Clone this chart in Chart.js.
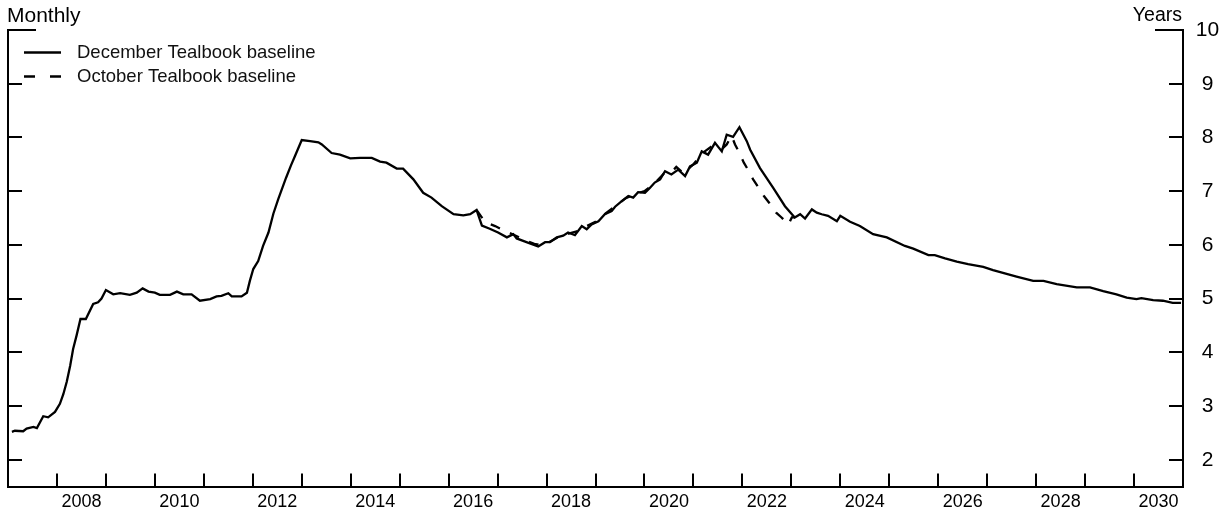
<!DOCTYPE html>
<html>
<head>
<meta charset="utf-8">
<script src="https://cdn.jsdelivr.net/npm/chart.js@4.4.1/dist/chart.umd.min.js"></script>
<style>
  html, body { margin: 0; padding: 0; background: #fff; }
  #wrap { width: 1227px; height: 512px; }
</style>
</head>
<body>
<div id="wrap"><canvas id="chart" width="1227" height="512"></canvas></div>
<script>
// Monthly observations, dates as decimal years, values in years
var decDates = [
  2007.08, 2007.14, 2007.31, 2007.38, 2007.52, 2007.59, 2007.72, 2007.82, 2007.96,
  2008.06, 2008.13, 2008.20, 2008.27, 2008.33, 2008.40, 2008.48, 2008.59, 2008.74, 2008.84, 2008.91,
  2009.00, 2009.15, 2009.29, 2009.49, 2009.63, 2009.75, 2009.87,
  2010.00, 2010.10, 2010.31, 2010.45, 2010.58, 2010.75, 2010.92,
  2011.13, 2011.26, 2011.36, 2011.50, 2011.57, 2011.77, 2011.88, 2011.94,
  2012.01, 2012.11, 2012.21, 2012.32, 2012.42, 2012.52, 2012.68, 2012.78, 2012.86,
  2013.00, 2013.17, 2013.34, 2013.41, 2013.61, 2013.78, 2013.99,
  2014.19, 2014.43, 2014.60, 2014.73, 2014.94,
  2015.07, 2015.28, 2015.48, 2015.65, 2015.86,
  2016.10, 2016.30, 2016.44, 2016.57, 2016.68, 2016.84,
  2017.01, 2017.19, 2017.32, 2017.39, 2017.59, 2017.83, 2017.97,
  2018.07, 2018.21, 2018.34, 2018.44, 2018.58, 2018.72, 2018.82, 2018.92,
  2019.06, 2019.19, 2019.33, 2019.40, 2019.53, 2019.67, 2019.77, 2019.87,
  2020.01, 2020.11, 2020.21, 2020.32, 2020.42, 2020.55, 2020.69, 2020.83, 2020.93,
  2021.07, 2021.17, 2021.30, 2021.44, 2021.58, 2021.68, 2021.81, 2021.94,
  2022.09, 2022.16, 2022.36, 2022.63, 2022.87,
  2023.07, 2023.18, 2023.28, 2023.42, 2023.52, 2023.62, 2023.75, 2023.93,
  2024.00, 2024.20, 2024.40, 2024.67, 2024.95,
  2025.32, 2025.49, 2025.80, 2025.93,
  2026.14, 2026.38, 2026.61, 2026.92,
  2027.12, 2027.36, 2027.60, 2027.94,
  2028.15, 2028.42, 2028.83,
  2029.10, 2029.37, 2029.64, 2029.85,
  2030.05, 2030.15, 2030.39, 2030.59, 2030.79, 2030.96
];
var decValues = [
  2.52, 2.54, 2.53, 2.58, 2.61, 2.59, 2.81, 2.79, 2.89,
  3.04, 3.22, 3.45, 3.75, 4.06, 4.31, 4.62, 4.62, 4.90, 4.93, 5.00,
  5.16, 5.08, 5.10, 5.07, 5.11, 5.19, 5.13,
  5.11, 5.07, 5.07, 5.13, 5.08, 5.08, 4.96,
  4.99, 5.04, 5.05, 5.10, 5.04, 5.04, 5.11, 5.33,
  5.55, 5.70, 5.98, 6.23, 6.58, 6.85, 7.25, 7.48, 7.65,
  7.95, 7.93, 7.91, 7.87, 7.71, 7.68, 7.61,
  7.62, 7.62, 7.55, 7.53, 7.42,
  7.42, 7.22, 6.97, 6.88, 6.72,
  6.57, 6.55, 6.57, 6.65, 6.36, 6.30,
  6.23, 6.14, 6.20, 6.12, 6.05, 5.97, 6.05,
  6.05, 6.14, 6.17, 6.23, 6.18, 6.35, 6.29, 6.38,
  6.44, 6.57, 6.63, 6.71, 6.81, 6.91, 6.88, 6.98,
  6.97, 7.06, 7.16, 7.22, 7.37, 7.31, 7.40, 7.28, 7.46,
  7.53, 7.74, 7.68, 7.90, 7.74, 8.05, 8.01, 8.19,
  7.93, 7.77, 7.43, 7.06, 6.72,
  6.51, 6.57, 6.49, 6.66, 6.60, 6.57, 6.54, 6.44,
  6.54, 6.43, 6.35, 6.20, 6.14,
  5.98, 5.93, 5.81, 5.81,
  5.75, 5.69, 5.64, 5.59,
  5.53, 5.47, 5.41, 5.33,
  5.33, 5.27, 5.21,
  5.21, 5.14, 5.08, 5.02,
  4.99, 5.01, 4.97, 4.96, 4.92, 4.92
];

// October baseline, only where it departs from the December path
var octDates = [
  2016.57, 2016.75, 2016.95, 2017.15, 2017.35, 2017.55, 2017.75, 2017.90,
  2018.07, 2018.25, 2018.45, 2018.62, 2018.80,
  2019.00, 2019.20, 2019.42, 2019.62, 2019.82,
  2020.00, 2020.20, 2020.40, 2020.60, 2020.65, 2020.80,
  2021.00, 2021.20, 2021.40, 2021.60, 2021.68, 2021.78, 2021.85, 2021.94,
  2022.03, 2022.12, 2022.22, 2022.32, 2022.44, 2022.55, 2022.69, 2022.80, 2022.94,
  2023.01, 2023.07
];
var octValues = [
  6.65, 6.42, 6.35, 6.26, 6.18, 6.09, 6.02, 5.99,
  6.06, 6.15, 6.21, 6.25, 6.34,
  6.43, 6.58, 6.73, 6.87, 6.95,
  7.00, 7.14, 7.33, 7.40, 7.45, 7.33,
  7.50, 7.72, 7.85, 7.80, 7.87, 8.03, 7.87, 7.71,
  7.53, 7.39, 7.22, 7.08, 6.91, 6.78, 6.60, 6.51, 6.38,
  6.51, 6.51
];

var seriesNames = ['December Tealbook baseline', 'October Tealbook baseline'];
var yearLabels = [2008, 2010, 2012, 2014, 2016, 2018, 2020, 2022, 2024, 2026, 2028, 2030];

function toPoints(xs, ys) {
  return xs.map(function (x, i) { return { x: x, y: ys[i] }; });
}

// inward tick marks, legend and unit captions
var decorations = {
  id: 'decorations',
  afterDraw: function (chart) {
    var ctx = chart.ctx, area = chart.chartArea;
    var xs = chart.scales.x, ys = chart.scales.y;
    ctx.save();
    ctx.strokeStyle = '#000';
    ctx.lineWidth = 2;
    ctx.beginPath();
    xs.ticks.forEach(function (t) {
      if (t.value <= xs.min || t.value >= xs.max) return;
      var px = Math.round(xs.getPixelForValue(t.value));
      ctx.moveTo(px, area.bottom);
      ctx.lineTo(px, area.bottom - 13);
    });
    ys.ticks.forEach(function (t) {
      var py = Math.round(ys.getPixelForValue(t.value));
      var len = t.value === ys.max ? 28 : 14;
      ctx.moveTo(area.left, py);
      ctx.lineTo(area.left + len, py);
      ctx.moveTo(area.right, py);
      ctx.lineTo(area.right - len, py);
    });
    ctx.stroke();

    // legend
    ctx.font = '18.5px "Liberation Sans", Arial, sans-serif';
    ctx.fillStyle = '#111';
    ctx.textBaseline = 'middle';
    ctx.textAlign = 'left';
    chart.data.datasets.forEach(function (ds, i) {
      var ly = area.top + 22.5 + i * 24;
      ctx.lineWidth = ds.borderWidth;
      ctx.setLineDash(ds.borderDash ? [11, 15] : []);
      ctx.beginPath();
      ctx.moveTo(area.left + 16, ly);
      ctx.lineTo(area.left + 53, ly);
      ctx.stroke();
      ctx.setLineDash([]);
      ctx.fillText(ds.label, area.left + 69, ly);
    });

    ctx.fillStyle = '#000';
    ctx.textBaseline = 'alphabetic';
    ctx.font = '21px "Liberation Sans", Arial, sans-serif';
    ctx.fillText('Monthly', area.left - 1, 22);
    ctx.font = '19.5px "Liberation Sans", Arial, sans-serif';
    ctx.textAlign = 'right';
    ctx.fillText('Years', area.right - 1, 21);
    ctx.restore();
  }
};

var ctx = document.getElementById('chart').getContext('2d');
var chart = new Chart(ctx, {
  type: 'line',
  data: {
    datasets: [
      {
        label: seriesNames[0],
        data: toPoints(decDates, decValues),
        borderColor: '#000',
        borderWidth: 2.3,
        pointRadius: 0,
        tension: 0,
        yAxisID: 'y'
      },
      {
        label: seriesNames[1],
        data: toPoints(octDates, octValues),
        borderColor: '#000',
        borderWidth: 2.3,
        borderDash: [10, 11],
        pointRadius: 0,
        tension: 0,
        yAxisID: 'y'
      }
    ]
  },
  options: {
    responsive: false,
    animation: false,
    layout: { padding: { top: 30, left: 8, right: 0, bottom: 0 } },
    plugins: {
      legend: { display: false },
      tooltip: { enabled: false }
    },
    scales: {
      x: {
        type: 'linear',
        min: 2007,
        max: 2031,
        grid: { display: false, drawTicks: false },
        border: { display: true, color: '#000', width: 2 },
        afterFit: function (scale) { scale.height = 24; },
        ticks: {
          stepSize: 1,
          autoSkip: false,
          maxRotation: 0,
          labelOffset: 24.5,
          padding: 5,
          color: '#000',
          font: { family: '"Liberation Sans", Arial, sans-serif', size: 18 },
          callback: function (v) { return yearLabels.indexOf(v) >= 0 ? String(v) : ''; }
        }
      },
      yl: {
        position: 'left',
        min: 1.5,
        max: 10,
        grid: { display: false, drawTicks: false },
        border: { display: true, color: '#000', width: 2 },
        ticks: { display: false }
      },
      y: {
        position: 'right',
        min: 1.5,
        max: 10,
        grid: { display: false, drawTicks: false },
        border: { display: true, color: '#000', width: 2 },
        afterFit: function (scale) { scale.width = 44; },
        ticks: {
          stepSize: 1,
          includeBounds: false,
          crossAlign: 'center',
          padding: 12.8,
          color: '#000',
          font: { family: '"Liberation Sans", Arial, sans-serif', size: 21 }
        }
      }
    }
  },
  plugins: [decorations]
});
</script>
</body>
</html>
